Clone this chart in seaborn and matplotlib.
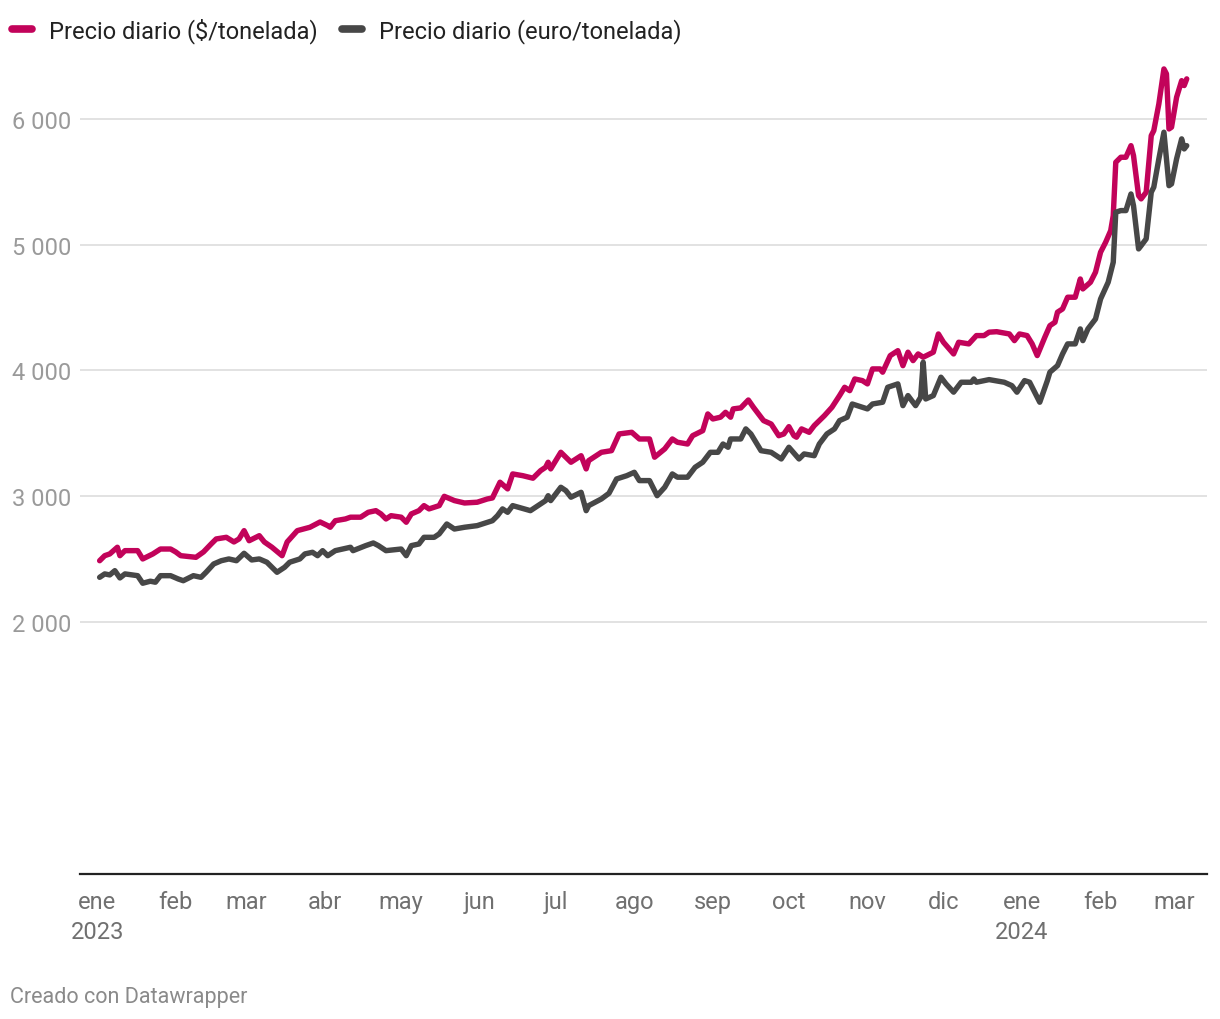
import matplotlib
matplotlib.use("Agg")
import matplotlib.pyplot as plt
from matplotlib.lines import Line2D
import seaborn as sns
import pandas as pd

# ---------------- data ----------------
usd_dates = [
    "2023-01-02", "2023-01-04", "2023-01-06", "2023-01-09", "2023-01-10", "2023-01-12", "2023-01-17", "2023-01-19", "2023-01-23", "2023-01-26", "2023-01-30",
    "2023-02-01", "2023-02-03", "2023-02-09", "2023-02-12", "2023-02-15", "2023-02-17", "2023-02-21", "2023-02-24", "2023-02-26", "2023-02-28",
    "2023-03-02", "2023-03-06", "2023-03-08", "2023-03-11", "2023-03-15", "2023-03-17", "2023-03-21", "2023-03-26", "2023-03-30",
    "2023-04-02", "2023-04-03", "2023-04-05", "2023-04-09", "2023-04-11", "2023-04-15", "2023-04-18", "2023-04-21", "2023-04-23", "2023-04-25", "2023-04-27",
    "2023-05-01", "2023-05-03", "2023-05-05", "2023-05-08", "2023-05-10", "2023-05-12", "2023-05-16", "2023-05-18", "2023-05-22", "2023-05-26", "2023-05-31",
    "2023-06-04", "2023-06-06", "2023-06-09", "2023-06-12", "2023-06-14", "2023-06-18", "2023-06-22", "2023-06-25", "2023-06-27", "2023-06-28", "2023-06-29",
    "2023-07-03", "2023-07-07", "2023-07-11", "2023-07-13", "2023-07-14", "2023-07-19", "2023-07-23", "2023-07-26", "2023-07-31",
    "2023-08-03", "2023-08-07", "2023-08-09", "2023-08-13", "2023-08-16", "2023-08-18", "2023-08-22", "2023-08-24", "2023-08-28", "2023-08-30",
    "2023-09-01", "2023-09-04", "2023-09-06", "2023-09-08", "2023-09-09", "2023-09-12", "2023-09-15", "2023-09-17", "2023-09-21", "2023-09-24", "2023-09-27", "2023-09-29",
    "2023-10-01", "2023-10-03", "2023-10-04", "2023-10-06", "2023-10-09", "2023-10-11", "2023-10-15", "2023-10-18", "2023-10-21", "2023-10-23", "2023-10-25", "2023-10-27", "2023-10-30",
    "2023-11-01", "2023-11-03", "2023-11-06", "2023-11-07", "2023-11-10", "2023-11-13", "2023-11-15", "2023-11-17", "2023-11-19", "2023-11-21", "2023-11-23", "2023-11-27", "2023-11-29",
    "2023-12-01", "2023-12-05", "2023-12-07", "2023-12-11", "2023-12-14", "2023-12-17", "2023-12-19", "2023-12-22", "2023-12-27", "2023-12-29", "2023-12-31",
    "2024-01-03", "2024-01-05", "2024-01-07", "2024-01-10", "2024-01-12", "2024-01-14", "2024-01-15", "2024-01-17", "2024-01-19", "2024-01-22", "2024-01-24", "2024-01-25", "2024-01-28", "2024-01-30",
    "2024-02-01", "2024-02-03", "2024-02-05", "2024-02-06", "2024-02-07", "2024-02-09", "2024-02-11", "2024-02-13", "2024-02-14", "2024-02-16", "2024-02-17", "2024-02-19", "2024-02-21", "2024-02-22", "2024-02-24", "2024-02-26", "2024-02-27", "2024-02-28", "2024-02-29",
    "2024-03-02", "2024-03-04", "2024-03-05", "2024-03-06",
]
usd_values = [
    2487, 2527, 2541, 2594, 2527, 2567, 2567, 2501, 2541, 2580, 2580,
    2557, 2527, 2514, 2557, 2620, 2660, 2673, 2636, 2660, 2726,
    2646, 2686, 2636, 2594, 2527, 2636, 2726, 2753, 2795,
    2766, 2753, 2805, 2819, 2833, 2833, 2872, 2885, 2859, 2819, 2845,
    2833, 2793, 2859, 2885, 2925, 2899, 2925, 2999, 2965, 2946, 2952,
    2978, 2986, 3111, 3058, 3177, 3163, 3143, 3203, 3230, 3270, 3217,
    3349, 3270, 3322, 3217, 3283, 3349, 3362, 3495, 3508,
    3455, 3455, 3310, 3376, 3455, 3429, 3415, 3481, 3521, 3654,
    3614, 3628, 3667, 3628, 3694, 3702, 3765, 3707, 3601, 3574, 3481, 3495,
    3553, 3481, 3469, 3535, 3508, 3561, 3640, 3707, 3800, 3866, 3839, 3932, 3919,
    3893, 4012, 4012, 3986, 4118, 4157, 4038, 4145, 4078, 4131, 4105, 4145, 4290,
    4224, 4131, 4224, 4211, 4277, 4277, 4304, 4308, 4290, 4237, 4290,
    4277, 4211, 4118, 4264, 4356, 4383, 4463, 4489, 4582, 4582, 4727, 4648, 4701, 4781,
    4940, 5019, 5112, 5231, 5655, 5695, 5695, 5787, 5708, 5390, 5364, 5417, 5867, 5907, 6119, 6397, 6358, 5920, 5934,
    6172, 6304, 6265, 6318,
]

eur_dates = [
    "2023-01-02", "2023-01-04", "2023-01-06", "2023-01-08", "2023-01-10", "2023-01-12", "2023-01-17", "2023-01-19", "2023-01-22", "2023-01-24", "2023-01-26", "2023-01-30",
    "2023-02-02", "2023-02-04", "2023-02-08", "2023-02-11", "2023-02-13", "2023-02-16", "2023-02-19", "2023-02-22", "2023-02-25", "2023-02-28",
    "2023-03-03", "2023-03-06", "2023-03-09", "2023-03-13", "2023-03-16", "2023-03-18", "2023-03-22", "2023-03-24", "2023-03-27", "2023-03-29", "2023-03-31",
    "2023-04-02", "2023-04-05", "2023-04-11", "2023-04-12", "2023-04-17", "2023-04-20", "2023-04-22", "2023-04-25",
    "2023-05-01", "2023-05-03", "2023-05-05", "2023-05-08", "2023-05-10", "2023-05-14", "2023-05-16", "2023-05-19", "2023-05-22", "2023-05-26", "2023-05-31",
    "2023-06-06", "2023-06-08", "2023-06-10", "2023-06-12", "2023-06-14", "2023-06-21", "2023-06-25", "2023-06-27", "2023-06-28", "2023-06-29",
    "2023-07-03", "2023-07-05", "2023-07-07", "2023-07-11", "2023-07-13", "2023-07-14", "2023-07-19", "2023-07-22", "2023-07-25", "2023-07-29",
    "2023-08-01", "2023-08-03", "2023-08-07", "2023-08-10", "2023-08-13", "2023-08-16", "2023-08-18", "2023-08-22", "2023-08-25", "2023-08-28", "2023-08-31",
    "2023-09-03", "2023-09-05", "2023-09-07", "2023-09-08", "2023-09-12", "2023-09-14", "2023-09-16", "2023-09-20", "2023-09-24", "2023-09-28",
    "2023-10-01", "2023-10-05", "2023-10-07", "2023-10-11", "2023-10-13", "2023-10-16", "2023-10-19", "2023-10-21", "2023-10-24", "2023-10-26",
    "2023-11-01", "2023-11-03", "2023-11-07", "2023-11-09", "2023-11-13", "2023-11-15", "2023-11-17", "2023-11-20", "2023-11-22", "2023-11-23", "2023-11-24", "2023-11-27", "2023-11-30",
    "2023-12-02", "2023-12-05", "2023-12-08", "2023-12-12", "2023-12-13", "2023-12-14", "2023-12-19", "2023-12-25", "2023-12-28", "2023-12-30",
    "2024-01-02", "2024-01-04", "2024-01-08", "2024-01-11", "2024-01-12", "2024-01-15", "2024-01-17", "2024-01-19", "2024-01-22", "2024-01-24", "2024-01-25", "2024-01-27", "2024-01-30",
    "2024-02-01", "2024-02-04", "2024-02-06", "2024-02-07", "2024-02-09", "2024-02-11", "2024-02-13", "2024-02-14", "2024-02-16", "2024-02-17", "2024-02-19", "2024-02-21", "2024-02-22", "2024-02-24", "2024-02-26", "2024-02-28", "2024-02-29",
    "2024-03-02", "2024-03-04", "2024-03-05", "2024-03-06",
]
eur_values = [
    2355, 2382, 2374, 2408, 2350, 2382, 2368, 2308, 2324, 2316, 2368, 2368,
    2342, 2328, 2368, 2355, 2395, 2461, 2487, 2501, 2487, 2546,
    2493, 2501, 2475, 2395, 2435, 2475, 2501, 2541, 2554, 2527, 2567,
    2527, 2567, 2594, 2567, 2607, 2628, 2607, 2567,
    2580, 2527, 2607, 2620, 2673, 2673, 2700, 2779, 2739, 2753, 2766,
    2805, 2845, 2899, 2872, 2925, 2885, 2938, 2965, 3004, 2965,
    3071, 3044, 2992, 3031, 2885, 2925, 2978, 3023, 3137, 3163,
    3190, 3124, 3124, 3004, 3071, 3177, 3151, 3151, 3230, 3270, 3349,
    3349, 3415, 3389, 3455, 3455, 3535, 3495, 3362, 3349, 3296,
    3389, 3296, 3336, 3322, 3415, 3495, 3535, 3601, 3628, 3733,
    3694, 3733, 3747, 3866, 3893, 3720, 3800, 3720, 3787, 4065, 3773, 3800, 3946,
    3893, 3827, 3906, 3906, 3932, 3906, 3927, 3906, 3879, 3827,
    3919, 3906, 3747, 3919, 3986, 4038, 4131, 4211, 4211, 4330, 4237, 4330, 4409,
    4568, 4701, 4860, 5258, 5271, 5271, 5403, 5310, 4966, 4992, 5046, 5417, 5457, 5682, 5894, 5469, 5483,
    5682, 5841, 5761, 5787,
]

series_names = ["Precio diario ($/tonelada)", "Precio diario (euro/tonelada)"]
series_colors = ["#c2035a", "#474747"]

month_tick_dates = ["2023-01-01", "2023-02-01", "2023-03-01", "2023-04-01", "2023-05-01",
                    "2023-06-01", "2023-07-01", "2023-08-01", "2023-09-01", "2023-10-01",
                    "2023-11-01", "2023-12-01", "2024-01-01", "2024-02-01", "2024-03-01"]
month_tick_labels = ["ene\n2023", "feb", "mar", "abr", "may", "jun", "jul", "ago",
                     "sep", "oct", "nov", "dic", "ene\n2024", "feb", "mar"]
y_ticks = [2000, 3000, 4000, 5000, 6000]
y_tick_labels = ["2 000", "3 000", "4 000", "5 000", "6 000"]

# ---------------- styling ----------------
sns.set_theme(style="white")
plt.rcParams["font.family"] = ["Roboto", "DejaVu Sans"]

df = pd.concat([
    pd.DataFrame({"date": pd.to_datetime(usd_dates), "value": usd_values, "series": series_names[0]}),
    pd.DataFrame({"date": pd.to_datetime(eur_dates), "value": eur_values, "series": series_names[1]}),
], ignore_index=True)

W, H = 1220, 1020
fig = plt.figure(figsize=(W / 100, H / 100), dpi=100)
fig.patch.set_facecolor("white")
ax = fig.add_axes([80 / W, 1 - 874.5 / H, 1127 / W, (874.5 - 57) / H])

sns.lineplot(data=df, x="date", y="value", hue="series",
             palette=dict(zip(series_names, series_colors)),
             estimator=None, sort=False, linewidth=3.9, ax=ax, legend=False)
for ln in ax.lines:
    ln.set_solid_capstyle("round")
    ln.set_solid_joinstyle("round")

ax.set_xlim(pd.Timestamp("2022-12-25 06:00"), pd.Timestamp("2024-03-14"))
ax.set_ylim(0, 6500)

ax.set_yticks(y_ticks)
ax.set_yticklabels(y_tick_labels)
ax.set_xticks(pd.to_datetime(month_tick_dates))
ax.set_xticklabels(month_tick_labels)

ax.yaxis.grid(True, color="#e2e2e2", linewidth=1.4)
ax.xaxis.grid(False)
ax.set_axisbelow(True)

for s in ["top", "right", "left"]:
    ax.spines[s].set_visible(False)
ax.spines["bottom"].set_color("#222222")
ax.spines["bottom"].set_linewidth(1.6)

ax.tick_params(axis="y", length=0, pad=49, labelsize=17, labelcolor="#9a9a9a")
for lbl in ax.get_yticklabels():
    lbl.set_horizontalalignment("left")
ax.tick_params(axis="x", length=0, pad=12, labelsize=17, labelcolor="#707070")
for lbl in ax.get_xticklabels():
    lbl.set_linespacing(1.38)

ax.set_xlabel("")
ax.set_ylabel("")

handles = [Line2D([0], [0], color=c, lw=5.5, solid_capstyle="round") for c in series_colors]
fig.legend(handles, series_names, loc="upper left", bbox_to_anchor=(12 / W, 1 - 18 / H),
           ncol=2, frameon=False, fontsize=17, handlelength=0.85, handletextpad=0.7,
           columnspacing=1.05, borderpad=0, borderaxespad=0, labelcolor="#222222")

fig.text(10 / W, 1 - 998 / H, "Creado con Datawrapper", fontsize=15.5, color="#8a8a8a",
         ha="left", va="center")

fig.savefig("out.png", dpi=100, facecolor="white")
